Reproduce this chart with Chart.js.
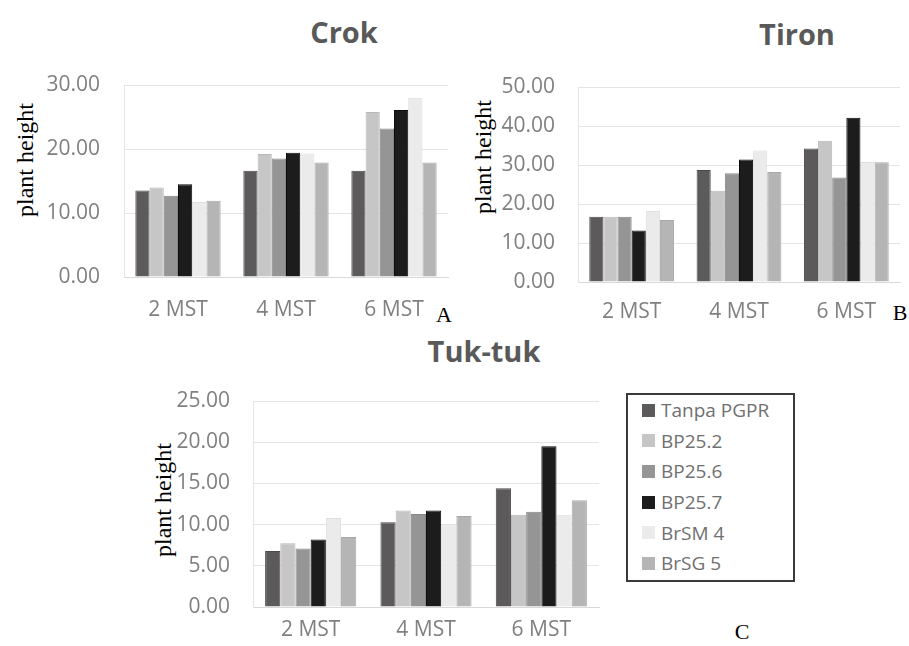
<!DOCTYPE html>
<html>
<head>
<meta charset="utf-8">
<script src="https://cdn.jsdelivr.net/npm/chart.js@4.4.1/dist/chart.umd.min.js"></script>
<style>
    body { margin: 0; width: 909px; height: 646px; overflow: hidden; background: #fff; position: relative; font-family: 'Open Sans', sans-serif; }
    canvas { position: absolute; }
    .title { position: absolute; font-weight: 700; font-size: 29px; color: #595959; line-height: 1; transform: translate(-50%, -50%); white-space: nowrap; }
    .ytitle { position: absolute; font-family: 'Liberation Serif', serif; font-size: 24px; color: #000; line-height: 1; transform: translate(-50%, -50%) rotate(-90deg); white-space: nowrap; }
    .panel { position: absolute; font-family: 'Liberation Serif', serif; font-size: 22px; color: #000; line-height: 1; transform: translate(-50%, -50%); }
    .legend { position: absolute; left: 626px; top: 393px; width: 169px; height: 189px; box-sizing: border-box; border: 2px solid #3a3a3a; }
    .legend .row { display: flex; align-items: center; height: 30.6px; font-size: 19px; color: #707070; }
    .legend .sw { width: 13px; height: 13px; margin-left: 14px; margin-right: 6px; }
</style>
</head>
<body>

<div class="title" style="left:344px; top:31px;">Crok</div>
<div class="title" style="left:797px; top:33px;">Tiron</div>
<div class="title" style="left:484px; top:350px;">Tuk-tuk</div>

<div class="ytitle" style="left:25px; top:160px;">plant height</div>
<div class="ytitle" style="left:483px; top:157px;">plant height</div>
<div class="ytitle" style="left:163px; top:500px;">plant height</div>

<div class="panel" style="left:444px; top:315px;">A</div>
<div class="panel" style="left:900px; top:313px;">B</div>
<div class="panel" style="left:742px; top:632px;">C</div>

<canvas id="crokChart" width="460" height="330" style="left:0; top:0;"></canvas>
<canvas id="tironChart" width="469" height="330" style="left:440px; top:0;"></canvas>
<canvas id="tuktukChart" width="480" height="326" style="left:140px; top:320px;"></canvas>

<div class="legend" id="legend"></div>

<script>
// Data
const categories = ['2 MST', '4 MST', '6 MST'];
const seriesNames = ['Tanpa PGPR', 'BP25.2', 'BP25.6', 'BP25.7', 'BrSM 4', 'BrSG 5'];

const crokTanpa = [13.5, 16.6, 16.6];
const crokBP252 = [14.0, 19.2, 25.8];
const crokBP256 = [12.7, 18.5, 23.2];
const crokBP257 = [14.5, 19.4, 26.1];
const crokBrSM4 = [11.7, 19.3, 28.0];
const crokBrSG5 = [11.9, 17.9, 17.9];

const tironTanpa = [16.7, 28.7, 34.2];
const tironBP252 = [16.7, 23.4, 36.2];
const tironBP256 = [16.7, 27.9, 26.8];
const tironBP257 = [13.2, 31.4, 42.1];
const tironBrSM4 = [18.2, 33.7, 30.8];
const tironBrSG5 = [15.9, 28.2, 30.7];

const tuktukTanpa = [6.8, 10.3, 14.4];
const tuktukBP252 = [7.75, 11.7, 11.2];
const tuktukBP256 = [7.1, 11.3, 11.55];
const tuktukBP257 = [8.2, 11.7, 19.5];
const tuktukBrSM4 = [10.8, 10.05, 11.2];
const tuktukBrSG5 = [8.5, 11.05, 12.95];

const crokTicks = [0, 10, 20, 30];
const tironTicks = [0, 10, 20, 30, 40, 50];
const tuktukTicks = [0, 5, 10, 15, 20, 25];

const seriesColors = ['#5d5a5b', '#c6c6c6', '#959595', '#1c1c1c', '#ebebeb', '#b5b5b5'];
const seriesBorders = ['#4c494a', '#b8b8b8', '#878787', '#0c0c0c', '#dedede', '#a8a8a8'];

const makeBarChart = (id, seriesValues, ticks, box) => {
    const canvas = document.getElementById(id);
    if (!canvas) return;

    return new Chart(canvas, {
        type: 'bar',
        data: {
            labels: categories,
            datasets: seriesValues.map((values, i) => ({
                label: seriesNames[i],
                data: values,
                backgroundColor: seriesColors[i],
                borderColor: seriesBorders[i],
                borderWidth: 1,
                barPercentage: 1,
                categoryPercentage: 0.79
            }))
        },
        options: {
            responsive: false,
            animation: false,
            layout: {
                padding: { top: box.top, right: box.right, bottom: 0, left: 0 }
            },
            plugins: {
                legend: { display: false },
                tooltip: { enabled: false }
            },
            scales: {
                x: {
                    grid: { display: false, drawTicks: false },
                    border: { color: '#d9d9d9' },
                    ticks: {
                        color: '#808080',
                        padding: box.xPad,
                        font: { family: 'Open Sans', size: 21 }
                    },
                    afterFit: (scale) => { scale.height = box.xHeight; }
                },
                y: {
                    min: ticks[0],
                    max: ticks[ticks.length - 1],
                    afterBuildTicks: (scale) => { scale.ticks = ticks.map(v => ({ value: v })); },
                    grid: { color: '#e4e4e4', drawTicks: false },
                    border: { color: '#e4e4e4' },
                    ticks: {
                        color: '#808080',
                        padding: box.yPad,
                        font: { family: 'Open Sans', size: 21 },
                        callback: (v) => Number(v).toFixed(2)
                    },
                    afterFit: (scale) => { scale.width = box.yWidth; }
                }
            }
        }
    });
};

// Crok Chart
makeBarChart('crokChart',
    [crokTanpa, crokBP252, crokBP256, crokBP257, crokBrSM4, crokBrSG5],
    crokTicks,
    { top: 85, right: 12, yWidth: 124, xHeight: 53, yPad: 24, xPad: 20 });

// Tiron Chart
makeBarChart('tironChart',
    [tironTanpa, tironBP252, tironBP256, tironBP257, tironBrSM4, tironBrSG5],
    tironTicks,
    { top: 87, right: 9, yWidth: 138, xHeight: 48, yPad: 23, xPad: 17 });

// Tuk-tuk Chart
makeBarChart('tuktukChart',
    [tuktukTanpa, tuktukBP252, tuktukBP256, tuktukBP257, tuktukBrSM4, tuktukBrSG5],
    tuktukTicks,
    { top: 81, right: 21, yWidth: 113, xHeight: 39, yPad: 23, xPad: 10 });

// Legend
const legend = document.getElementById('legend');
seriesNames.forEach((name, i) => {
    const row = document.createElement('div');
    row.className = 'row';
    const sw = document.createElement('span');
    sw.className = 'sw';
    sw.style.background = seriesColors[i];
    const txt = document.createElement('span');
    txt.textContent = name;
    row.appendChild(sw);
    row.appendChild(txt);
    legend.appendChild(row);
});
</script>
</body>
</html>
